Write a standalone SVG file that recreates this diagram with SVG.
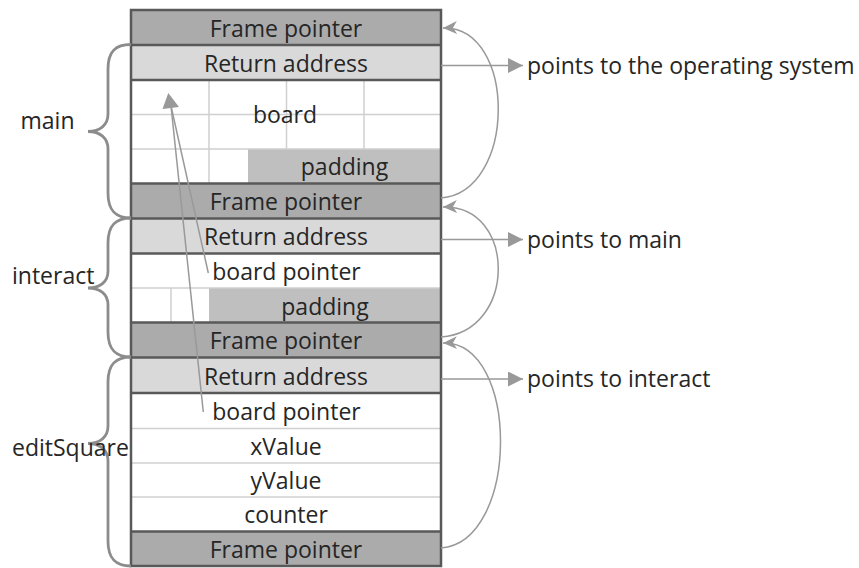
<svg xmlns="http://www.w3.org/2000/svg" width="859" height="568" viewBox="0 0 859 568">
<defs>
<style>
text{font-family:"Open Sans","Liberation Sans",sans-serif;font-size:23px;fill:#262626}
.c{text-anchor:middle}
.fp{fill:#ababab}
.ra{fill:#d9d9d9}
.pad{fill:#bfbfbf}
.w{fill:#ffffff}
.lite{stroke:#d0d0d0;stroke-width:1.5;fill:none}
.dark{stroke:#595959;stroke-width:2.5;fill:none}
.brace{stroke:#8c8c8c;stroke-width:2.8;fill:none}
.conn{stroke:#999999;stroke-width:1.5;fill:none}
</style>
<marker id="tri" markerUnits="userSpaceOnUse" markerWidth="15" markerHeight="15" refX="15" refY="7.5" orient="auto">
<path d="M0,0 L15,7.5 L0,15 z" fill="#999999"/>
</marker>
<marker id="stealth" markerUnits="userSpaceOnUse" markerWidth="15" markerHeight="13" refX="14" refY="6.5" orient="auto">
<path d="M0,0 L14,6.5 L0,13 L4,6.5 z" fill="#999999"/>
</marker>
</defs>
<rect width="859" height="568" fill="#ffffff"/>

<g id="fp1"><rect class="fp" x="131" y="10" width="310" height="35"/><text class="c" x="286" y="36.5">Frame pointer</text></g>
<g id="ra1"><rect class="ra" x="131" y="45" width="310" height="35"/><text class="c" x="286" y="71.5">Return address</text></g>
<g id="board">
<rect class="w" x="131" y="80" width="310" height="103.5"/>
<rect class="pad" x="248" y="149" width="193" height="34.5"/>
<path class="lite" d="M131,114.5 H441 M131,149 H441 M209,80 V183.5 M286.5,80 V149 M364,80 V149"/>
<text class="c" x="285" y="123">board</text>
<text class="c" x="344.5" y="175">padding</text>
</g>
<g id="fp2"><rect class="fp" x="131" y="183.5" width="310" height="35"/><text class="c" x="286" y="210">Frame pointer</text></g>
<g id="ra2"><rect class="ra" x="131" y="218.5" width="310" height="35"/><text class="c" x="286" y="245">Return address</text></g>
<g id="bp2"><rect class="w" x="131" y="253.5" width="310" height="34.5"/><text class="c" x="286.5" y="280">board pointer</text></g>
<g id="pad2">
<rect class="w" x="131" y="288" width="78" height="34.5"/>
<rect class="pad" x="209" y="288" width="232" height="34.5"/>
<path class="lite" d="M131,288 H441 M171,288 V322.5"/>
<text class="c" x="325" y="314.5">padding</text>
</g>
<g id="fp3"><rect class="fp" x="131" y="322.5" width="310" height="35"/><text class="c" x="286" y="349">Frame pointer</text></g>
<g id="ra3"><rect class="ra" x="131" y="357.5" width="310" height="35.5"/><text class="c" x="286" y="384.5">Return address</text></g>
<g id="bp3"><rect class="w" x="131" y="393" width="310" height="35.5"/><text class="c" x="286.5" y="420">board pointer</text></g>
<g id="xValue"><rect class="w" x="131" y="428.5" width="310" height="34.5"/><path class="lite" d="M131,428.5 H441"/><text class="c" x="286" y="455">xValue</text></g>
<g id="yValue"><rect class="w" x="131" y="463" width="310" height="34"/><path class="lite" d="M131,463 H441"/><text class="c" x="286" y="489">yValue</text></g>
<g id="counter"><rect class="w" x="131" y="497" width="310" height="34.5"/><path class="lite" d="M131,497 H441"/><text class="c" x="286" y="523">counter</text></g>
<g id="fp4"><rect class="fp" x="131" y="531.5" width="310" height="34.5"/><text class="c" x="286" y="557.5">Frame pointer</text></g>

<g id="frame-lines">
<rect class="dark" x="131" y="10" width="310" height="556"/>
<path class="dark" d="M131,45 H441 M131,80 H441 M131,183.5 H441 M131,218.5 H441 M131,253.5 H441 M131,322.5 H441 M131,357.5 H441 M131,393 H441 M131,531.5 H441"/>
</g>

<g id="braces">
<g id="brace-main"><path class="brace" d="M131,44.5 C115,44.5 108,52 108,69 L108,114 C108,125 100,131.5 88,131.5 C100,131.5 108,138 108,149 L108,193 C108,210 115,218 131,218"/><text x="20.5" y="128.5">main</text></g>
<g id="brace-interact"><path class="brace" d="M131,218 C115,218 108,226 108,243 L108,271 C108,282 100,288 88,288 C100,288 108,294 108,305 L108,332 C108,349 115,357 131,357"/><text x="12" y="284">interact</text></g>
<g id="brace-editSquare"><path class="brace" d="M131,357 C115,357 108,365 108,382 L108,426 C108,437 100,443.5 88,443.5 C100,443.5 108,450 108,461 L108,541 C108,558 115,566 131,566"/><text x="12" y="456">editSquare</text></g>
</g>

<g id="connectors">
<path class="conn" d="M441,198 C517,192 517,26 443,28" marker-end="url(#stealth)"/>
<path class="conn" d="M441,337 C517,332 517,205 443,207" marker-end="url(#stealth)"/>
<path class="conn" d="M441,548 C520,542 520,341 443,343" marker-end="url(#stealth)"/>
<path class="conn" d="M441,65.5 H523" marker-end="url(#tri)"/>
<path class="conn" d="M441,239.5 H523" marker-end="url(#tri)"/>
<path class="conn" d="M441,379 H523" marker-end="url(#tri)"/>
<path class="conn" d="M208.3,273 L171,106"/>
<path class="conn" d="M203.3,412 L171,106"/>
<polygon points="168.3,93 179,107 162.5,109" fill="#999999"/>
</g>

<g id="notes">
<text x="527" y="73.5">points to the operating system</text>
<text x="527" y="247.5">points to main</text>
<text x="527" y="387">points to interact</text>
</g>
</svg>
